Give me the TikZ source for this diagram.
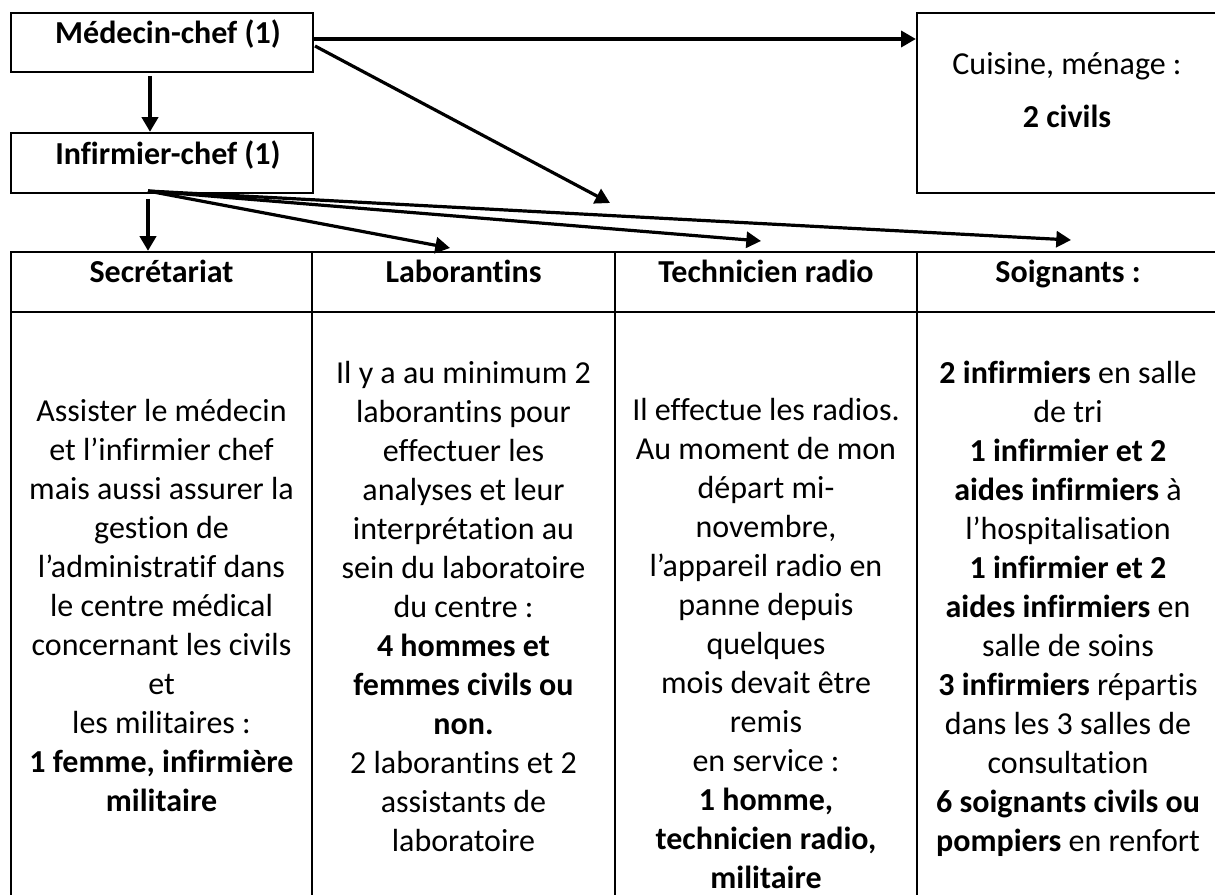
\documentclass[tikz,border=0pt]{standalone}
\usepackage{fontspec}
\setmainfont{Carlito}[Ligatures={TeX,NoCommon}]
\usetikzlibrary{arrows.meta,positioning}

\begin{document}
\begin{tikzpicture}[x=0.75pt,y=-0.75pt]
		\tikzstyle{box}=[draw, line width=1.7pt, inner sep=0pt]
		\tikzstyle{heading}=[inner sep=0pt, anchor=base, font=\fontsize{24}{29.25}\selectfont\bfseries]
		\tikzstyle{plain}=[inner sep=0pt, anchor=base, font=\fontsize{24}{29.25}\selectfont]
		\tikzstyle{bodytext}=[inner sep=0pt, anchor=north, text width=217pt, align=flush center, font=\fontsize{24}{29.25}\selectfont]
		\tikzstyle{link}=[line width=2.4pt, -{Triangle[length=11pt,width=12pt]}]
		\tikzstyle{downlink}=[line width=3pt, -{Triangle[length=11pt,width=12pt]}]
		
		\useasboundingbox (0,0) rectangle (1215,895);
		\clip (0,0) rectangle (1215,895);
		
		% chefs and cuisine
		\node[box, minimum width=226.5pt, minimum height=44.25pt] (med) at (162,42.5) {};
		\node[box, minimum width=226.5pt, minimum height=45pt] (inf) at (162,163) {};
		\node[box, minimum width=238.5pt, minimum height=135pt] (cuis) at (1076,103) {};
		\node[heading] (medtxt) at (168,44) {Médecin-chef (1)};
		\node[heading] (inftxt) at (168,165) {Infirmier-chef (1)};
		\node[plain] (cuistxt) at (1067,75) {Cuisine, ménage :};
		\node[heading] (civtxt) at (1067,128) {2 civils};
		
		% table
		\node[box, minimum width=225.75pt, minimum height=45pt] (sec) at (161.5,282) {};
		\node[box, minimum width=227.25pt, minimum height=45pt] (lab) at (463.5,282) {};
		\node[box, minimum width=226.5pt, minimum height=45pt] (tech) at (766,282) {};
		\node[box, minimum width=242.25pt, minimum height=45pt] (soin) at (1078.5,282) {};
		\node[box, minimum width=225.75pt, minimum height=463.5pt] (secbody) at (161.5,621) {};
		\node[box, minimum width=227.25pt, minimum height=463.5pt] (labbody) at (463.5,621) {};
		\node[box, minimum width=226.5pt, minimum height=463.5pt] (techbody) at (766,621) {};
		\node[box, minimum width=242.25pt, minimum height=463.5pt] (soinbody) at (1078.5,621) {};
		
		\node[heading] (sectxt) at (161.5,282) {Secrétariat};
		\node[heading] (labtxt) at (463.5,282) {Laborantins};
		\node[heading] (techtxt) at (766,282) {Technicien radio};
		\node[heading] (sointxt) at (1068,282) {Soignants :};
		
		\node[bodytext] (secinfo) at (161.5,393.7) {\strut Assister le médecin\\ et l’infirmier chef\\ mais aussi assurer la\\ gestion de\\ l’administratif dans\\ le centre médical\\ concernant les civils\\ et\\ les militaires :\\ \textbf{1 femme, infirmière}\\ \textbf{militaire}};
		\node[bodytext] (labinfo) at (463.5,355.7) {\strut Il y a au minimum 2\\ laborantins pour\\ effectuer les\\ analyses et leur\\ interprétation au\\ sein du laboratoire\\ du centre :\\ \textbf{4 hommes et}\\ \textbf{femmes civils ou}\\ \textbf{non.}\\ 2 laborantins et 2\\ assistants de\\ laboratoire};
		\node[bodytext] (techinfo) at (766,392.7) {\strut Il effectue les radios.\\ Au moment de mon\\ départ mi-\\ novembre,\\ l’appareil radio en\\ panne depuis\\ quelques\\ mois devait être\\ remis\\ en service :\\ \textbf{1 homme,}\\ \textbf{technicien radio,}\\ \textbf{militaire}};
		\node[bodytext] (soininfo) at (1068,355.7) {\strut\textbf{2 infirmiers} en salle\\ de tri\\ \textbf{1 infirmier et 2}\\ \textbf{aides infirmiers} à\\ l’hospitalisation\\ \textbf{1 infirmier et 2}\\ \textbf{aides infirmiers} en\\ salle de soins\\ \textbf{3 infirmiers} répartis\\ dans les 3 salles de\\ consultation\\ \textbf{6 soignants civils ou}\\ \textbf{pompiers} en renfort};
		
		% arrows
		\coordinate (medfoot) at (150,76);
		\coordinate (medside) at (313,39);
		\coordinate (medcorner) at (315,46);
		\coordinate (diagtip) at (610,203);
		\draw [downlink] (medfoot) -- (medfoot |- inf.north);
		\draw [link] (medside) -- (medside -| cuis.west);
		\draw [link] (medcorner) -- (diagtip);
		
		\coordinate (inffoot) at (148,191);
		\coordinate (labtip) at (450,248);
		\coordinate (techtip) at (761,241);
		\coordinate (sointip) at (1071,240);
		\draw [downlink] ([yshift=-6pt]inffoot) -- (inffoot |- sec.north);
		\draw [link] (inffoot) -- (labtip);
		\draw [link] (inffoot) -- (techtip);
		\draw [link] (inffoot) -- (sointip);
\end{tikzpicture}
\end{document}
